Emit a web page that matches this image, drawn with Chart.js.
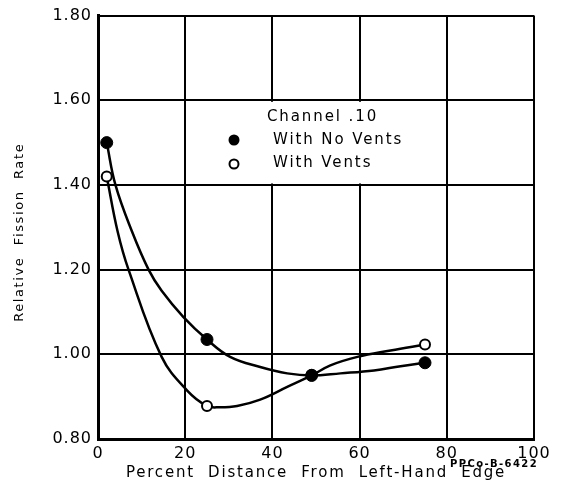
<!DOCTYPE html>
<html>
<head>
<meta charset="utf-8">
<script src="https://cdn.jsdelivr.net/npm/chart.js@4/dist/chart.umd.min.js"></script>
<style>
  html, body { margin: 0; padding: 0; background: #fff; }
</style>
</head>
<body>
<canvas id="chart" width="562" height="491"></canvas>
<script>
    var distNoVents = [2, 25, 49, 75];
    var rateNoVents = [1.50, 1.035, 0.95, 0.98];
    var distVents = [2, 25, 49, 75];
    var rateVents = [1.42, 0.878, 0.952, 1.023];

    // hand drawn fit curves, also
    var curveNoVentsX = [2, 4, 7.8, 11.6, 14.6, 19.6, 25, 30.3, 37.2, 43.4, 49, 55.6, 63.3, 69.4, 75];
    var curveNoVentsY = [1.50, 1.40, 1.29, 1.20, 1.15, 1.088, 1.035, 0.994, 0.97, 0.955, 0.95, 0.955, 0.962, 0.972, 0.98];
    var curveVentsX = [2, 4.5, 7, 14.6, 20.4, 25, 28, 31.9, 37.2, 43.4, 49, 53.3, 59.5, 67.1, 75];
    var curveVentsY = [1.42, 1.29, 1.20, 0.994, 0.915, 0.878, 0.875, 0.878, 0.893, 0.923, 0.95, 0.974, 0.994, 1.009, 1.023];

    var xTicks = [0, 20, 40, 60, 80, 100];
    var yTicks = [0.80, 1.00, 1.20, 1.40, 1.60, 1.80];

    var legendTitle = "Channel .10";
    var seriesNames = ["With No Vents", "With Vents"];
    var xTitle = "Percent  Distance  From  Left-Hand  Edge";
    var yTitle = "Relative  Fission  Rate";
    var figNumber = "PPCo-B-6422";

    var FONT = '"DejaVu Sans", sans-serif';

    function toPoints(xs, ys) {
      var pts = [];
      for (var i = 0; i < xs.length; i++) pts.push({ x: xs[i], y: ys[i] });
      return pts;
    }

    // white legend box over the grid + lettered texts
    var paperPlugin = {
      id: 'paper',
      beforeDraw: function (chart) {
        chart.ctx.letterSpacing = '1px';
      },
      beforeDatasetsDraw: function (chart) {
        var ctx = chart.ctx;
        var xs = chart.scales.x, ys = chart.scales.y;
        var l = xs.getPixelForValue(20) + 1.5, r = xs.getPixelForValue(80) - 1.5;
        var t = ys.getPixelForValue(1.60) + 1.5, b = ys.getPixelForValue(1.40) - 1.5;
        ctx.save();
        ctx.fillStyle = '#fff';
        ctx.fillRect(l, t, r - l, b - t);
        ctx.restore();
      },
      afterDraw: function (chart) {
        var ctx = chart.ctx;
        var area = chart.chartArea;
        ctx.save();
        ctx.fillStyle = '#000';
        ctx.strokeStyle = '#000';

        // legend
        ctx.font = '15px ' + FONT;
        ctx.letterSpacing = '1.9px';
        ctx.textAlign = 'left';
        ctx.textBaseline = 'middle';
        ctx.fillText(legendTitle, 267, 117);
        ctx.fillText(seriesNames[0], 273, 140);
        ctx.fillText(seriesNames[1], 273, 163);
        ctx.beginPath();
        ctx.arc(234, 140, 5.5, 0, Math.PI * 2);
        ctx.fill();
        ctx.beginPath();
        ctx.lineWidth = 2;
        ctx.arc(234, 164, 4.5, 0, Math.PI * 2);
        ctx.stroke();

        // axis titles
        ctx.font = '15px ' + FONT;
        ctx.letterSpacing = '1.8px';
        ctx.textAlign = 'center';
        ctx.fillText(xTitle, (area.left + area.right) / 2, 473);

        ctx.save();
        ctx.translate(20, (area.top + area.bottom) / 2 + 5);
        ctx.rotate(-Math.PI / 2);
        ctx.font = '13px ' + FONT;
        ctx.letterSpacing = '1.6px';
        ctx.fillText(yTitle, 0, 0);
        ctx.restore();

        ctx.font = 'bold 10px ' + FONT;
        ctx.letterSpacing = '1.4px';
        ctx.textAlign = 'right';
        ctx.fillText(figNumber, 538, 464);

        ctx.restore();
        ctx.letterSpacing = '0px';
      }
    };

    var chart = new Chart(document.getElementById('chart').getContext('2d'), {
      type: 'line',
      data: {
        datasets: [{
          label: seriesNames[0],
          data: toPoints(distNoVents, rateNoVents),
          showLine: false,
          pointRadius: 6,
          pointBackgroundColor: '#000',
          pointBorderColor: '#000',
          pointBorderWidth: 1
        }, {
          label: seriesNames[1],
          data: toPoints(distVents, rateVents),
          showLine: false,
          pointRadius: 5,
          pointBackgroundColor: '#fff',
          pointBorderColor: '#000',
          pointBorderWidth: 2
        }, {
          label: 'curve no vents',
          data: toPoints(curveNoVentsX, curveNoVentsY),
          borderColor: '#000',
          borderWidth: 2.5,
          pointRadius: 0,
          tension: 0.4,
          fill: false
        }, {
          label: 'curve vents',
          data: toPoints(curveVentsX, curveVentsY),
          borderColor: '#000',
          borderWidth: 2.5,
          pointRadius: 0,
          tension: 0.4,
          fill: false
        }]
      },
      options: {
        responsive: false,
        animation: false,
        layout: { padding: { top: 14, right: 28, left: 0, bottom: 0 } },
        plugins: {
          legend: { display: false },
          tooltip: { enabled: false }
        },
        scales: {
          x: {
            type: 'linear',
            min: 0,
            max: 100,
            afterBuildTicks: function (scale) {
              scale.ticks = xTicks.map(function (v) { return { value: v }; });
            },
            afterFit: function (scale) { scale.height = 52; },
            grid: { color: '#000', lineWidth: 2, drawTicks: false },
            border: { color: '#000', width: 3 },
            ticks: {
              color: '#000',
              padding: 5,
              maxRotation: 0,
              font: { family: FONT, size: 16 },
              callback: function (v) { return String(v); }
            }
          },
          y: {
            min: 0.8,
            max: 1.8,
            afterBuildTicks: function (scale) {
              scale.ticks = yTicks.map(function (v) { return { value: v }; });
            },
            afterFit: function (scale) { scale.width = 98; },
            grid: { color: '#000', lineWidth: 2, drawTicks: false },
            border: { color: '#000', width: 3 },
            ticks: {
              color: '#000',
              padding: 6,
              font: { family: FONT, size: 16 },
              callback: function (v) { return Number(v).toFixed(2); }
            }
          }
        }
      },
      plugins: [paperPlugin]
    });
</script>
</body>
</html>
